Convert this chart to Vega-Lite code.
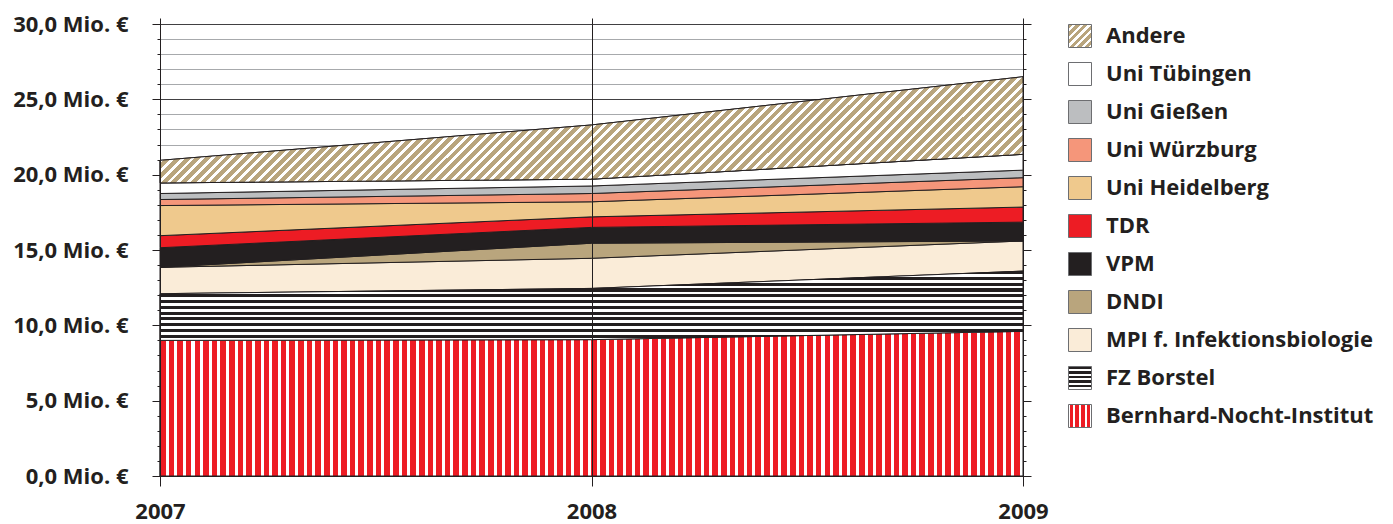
{
"$schema": "https://vega.github.io/schema/vega-lite/v6.json",
"width": 863,
"height": 452,
"autosize": {"type": "none"},
"padding": {"left": 160, "top": 24, "right": 370, "bottom": 48},
"background": "white",
"config": {"view": {"stroke": null}, "font": "Open Sans"},
"data": {"values": [
{"year": 2007, "series": "Bernhard-Nocht-Institut", "value": 9.0},
{"year": 2008, "series": "Bernhard-Nocht-Institut", "value": 9.05},
{"year": 2009, "series": "Bernhard-Nocht-Institut", "value": 9.6},
{"year": 2007, "series": "FZ Borstel", "value": 3.1},
{"year": 2008, "series": "FZ Borstel", "value": 3.4},
{"year": 2009, "series": "FZ Borstel", "value": 4.0},
{"year": 2007, "series": "MPI f. Infektionsbiologie", "value": 1.75},
{"year": 2008, "series": "MPI f. Infektionsbiologie", "value": 2.0},
{"year": 2009, "series": "MPI f. Infektionsbiologie", "value": 2.0},
{"year": 2007, "series": "DNDI", "value": 0},
{"year": 2008, "series": "DNDI", "value": 1.0},
{"year": 2009, "series": "DNDI", "value": 0},
{"year": 2007, "series": "VPM", "value": 1.3},
{"year": 2008, "series": "VPM", "value": 1.05},
{"year": 2009, "series": "VPM", "value": 1.25},
{"year": 2007, "series": "TDR", "value": 0.8},
{"year": 2008, "series": "TDR", "value": 0.7},
{"year": 2009, "series": "TDR", "value": 1.0},
{"year": 2007, "series": "Uni Heidelberg", "value": 2.0},
{"year": 2008, "series": "Uni Heidelberg", "value": 1.0},
{"year": 2009, "series": "Uni Heidelberg", "value": 1.35},
{"year": 2007, "series": "Uni Würzburg", "value": 0.4},
{"year": 2008, "series": "Uni Würzburg", "value": 0.55},
{"year": 2009, "series": "Uni Würzburg", "value": 0.6},
{"year": 2007, "series": "Uni Gießen", "value": 0.4},
{"year": 2008, "series": "Uni Gießen", "value": 0.5},
{"year": 2009, "series": "Uni Gießen", "value": 0.5},
{"year": 2007, "series": "Uni Tübingen", "value": 0.7},
{"year": 2008, "series": "Uni Tübingen", "value": 0.45},
{"year": 2009, "series": "Uni Tübingen", "value": 1.05},
{"year": 2007, "series": "Andere", "value": 1.5},
{"year": 2008, "series": "Andere", "value": 3.6},
{"year": 2009, "series": "Andere", "value": 5.15}
]},
"transform": [{"stack": "value", "groupby": ["year"], "as": ["y0", "y1"]}],
"resolve": {"axis": {"x": "independent", "y": "independent"}},
"layer": [
{
"mark": {"type": "area", "stroke": "#231f20", "strokeWidth": 1},
"encoding": {
"x": {"field": "year", "type": "quantitative", "scale": {"domain": [2007, 2009], "nice": false, "zero": false},
"axis": {"orient": "top", "values": [2007, 2008, 2009], "labels": false, "title": null, "grid": false, "domain": false, "ticks": true, "tickSize": 6, "tickColor": "#231f20"}},
"y": {"field": "y1", "type": "quantitative", "scale": {"domain": [0, 30], "nice": false, "zero": true},
"axis": {"orient": "left", "values": [0,1,2,3,4,5,6,7,8,9,10,11,12,13,14,15,16,17,18,19,20,21,22,23,24,25,26,27,28,29,30], "title": null, "grid": true,
"gridColor": {"condition": {"test": "datum.value % 5 === 0", "value": "#414042"}, "value": "#a7a9ac"},
"gridWidth": 1, "gridOpacity": 1,
"tickSize": {"condition": {"test": "datum.value % 5 === 0", "value": 8}, "value": 3},
"tickColor": "#231f20", "domainColor": "#231f20",
"labelExpr": "datum.value % 5 === 0 ? replace(format(datum.value, '.1f'), '.', ',') + ' Mio. €' : ''",
"labelFont": "Open Sans", "labelFontSize": 22, "labelFontWeight": "bold", "labelColor": "#231f20", "labelPadding": 24, "labelOverlap": false, "labelBound": false, "labelFlush": false}},
"y2": {"field": "y0"},
"fill": {"field": "series", "type": "nominal",
"scale": {"domain": ["Bernhard-Nocht-Institut", "FZ Borstel", "MPI f. Infektionsbiologie", "DNDI", "VPM", "TDR", "Uni Heidelberg", "Uni Würzburg", "Uni Gießen", "Uni Tübingen", "Andere"],
"range": ["#ed1c24", "#231f20", "#faecd8", "#b9a57d", "#231f20", "#ed1c24", "#efc98d", "#f5967a", "#bcbec0", "#ffffff", "#b9a57d"]},
"legend": null},
"opacity": {"field": "series", "type": "nominal",
"scale": {"domain": ["Andere", "Uni Tübingen", "Uni Gießen", "Uni Würzburg", "Uni Heidelberg", "TDR", "VPM", "DNDI", "MPI f. Infektionsbiologie", "FZ Borstel", "Bernhard-Nocht-Institut"], "range": [1, 1]},
"legend": {"orient": "none", "legendX": 908, "legendY": 0, "title": null, "symbolType": "square", "symbolSize": 529, "symbolStrokeWidth": 1, "symbolStrokeColor": "#6d6e71", "labelFont": "Open Sans", "labelFontSize": 22, "labelFontWeight": "bold", "labelColor": "#231f20", "labelOffset": 14, "rowPadding": 10, "padding": 0, "labelLimit": 400,
"encoding": {"symbols": {
"fill": {"condition": [
{"test": "datum.value === 'Andere'", "value": {"gradient": "linear", "x1": 0, "y1": 0, "x2": 1, "y2": 1, "stops": [
{"offset":0,"color":"#b9a57d"},{"offset":0.1,"color":"#b9a57d"},{"offset":0.1,"color":"#fff"},{"offset":0.1667,"color":"#fff"},
{"offset":0.1667,"color":"#b9a57d"},{"offset":0.2667,"color":"#b9a57d"},{"offset":0.2667,"color":"#fff"},{"offset":0.3333,"color":"#fff"},
{"offset":0.3333,"color":"#b9a57d"},{"offset":0.4333,"color":"#b9a57d"},{"offset":0.4333,"color":"#fff"},{"offset":0.5,"color":"#fff"},
{"offset":0.5,"color":"#b9a57d"},{"offset":0.6,"color":"#b9a57d"},{"offset":0.6,"color":"#fff"},{"offset":0.6667,"color":"#fff"},
{"offset":0.6667,"color":"#b9a57d"},{"offset":0.7667,"color":"#b9a57d"},{"offset":0.7667,"color":"#fff"},{"offset":0.8333,"color":"#fff"},
{"offset":0.8333,"color":"#b9a57d"},{"offset":0.9333,"color":"#b9a57d"},{"offset":0.9333,"color":"#fff"},{"offset":1,"color":"#fff"}]}},
{"test": "datum.value === 'FZ Borstel'", "value": {"gradient": "linear", "x1": 0, "y1": 0, "x2": 0, "y2": 1, "stops": [
{"offset":0,"color":"#231f20"},{"offset":0.11,"color":"#231f20"},{"offset":0.11,"color":"#fff"},{"offset":0.2,"color":"#fff"},
{"offset":0.2,"color":"#231f20"},{"offset":0.31,"color":"#231f20"},{"offset":0.31,"color":"#fff"},{"offset":0.4,"color":"#fff"},
{"offset":0.4,"color":"#231f20"},{"offset":0.51,"color":"#231f20"},{"offset":0.51,"color":"#fff"},{"offset":0.6,"color":"#fff"},
{"offset":0.6,"color":"#231f20"},{"offset":0.71,"color":"#231f20"},{"offset":0.71,"color":"#fff"},{"offset":0.8,"color":"#fff"},
{"offset":0.8,"color":"#231f20"},{"offset":0.91,"color":"#231f20"},{"offset":0.91,"color":"#fff"},{"offset":1,"color":"#fff"}]}},
{"test": "datum.value === 'Bernhard-Nocht-Institut'", "value": {"gradient": "linear", "x1": 0, "y1": 0, "x2": 1, "y2": 0, "stops": [
{"offset":0,"color":"#fff"},{"offset":0.05,"color":"#fff"},{"offset":0.05,"color":"#ed1c24"},{"offset":0.2,"color":"#ed1c24"},
{"offset":0.2,"color":"#fff"},{"offset":0.3,"color":"#fff"},{"offset":0.3,"color":"#ed1c24"},{"offset":0.45,"color":"#ed1c24"},
{"offset":0.45,"color":"#fff"},{"offset":0.55,"color":"#fff"},{"offset":0.55,"color":"#ed1c24"},{"offset":0.7,"color":"#ed1c24"},
{"offset":0.7,"color":"#fff"},{"offset":0.8,"color":"#fff"},{"offset":0.8,"color":"#ed1c24"},{"offset":0.95,"color":"#ed1c24"},
{"offset":0.95,"color":"#fff"},{"offset":1,"color":"#fff"}]}}
], "value": {"expr": "scale('fill', datum.value)"}},
"stroke": {"value": "#6d6e71"},
"strokeWidth": {"value": 1}
}}}}
}
},
{
"transform": [{"filter": "datum.series === 'Bernhard-Nocht-Institut'"}],
"mark": {"type": "area", "stroke": "#231f20", "strokeWidth": 1, "fill": {"gradient": "linear", "x1": 0, "y1": 0, "x2": 1, "y2": 0, "stops": [
{"offset":0,"color":"#ed1c24"},{"offset":0.0065,"color":"#ed1c24"},{"offset":0.0065,"color":"#fff"},{"offset":0.01,"color":"#fff"},
{"offset":0.01,"color":"#ed1c24"},{"offset":0.0165,"color":"#ed1c24"},{"offset":0.0165,"color":"#fff"},{"offset":0.02,"color":"#fff"},
{"offset":0.02,"color":"#ed1c24"},{"offset":0.0265,"color":"#ed1c24"},{"offset":0.0265,"color":"#fff"},{"offset":0.03,"color":"#fff"},
{"offset":0.03,"color":"#ed1c24"},{"offset":0.0365,"color":"#ed1c24"},{"offset":0.0365,"color":"#fff"},{"offset":0.04,"color":"#fff"},
{"offset":0.04,"color":"#ed1c24"},{"offset":0.0465,"color":"#ed1c24"},{"offset":0.0465,"color":"#fff"},{"offset":0.05,"color":"#fff"},
{"offset":0.05,"color":"#ed1c24"},{"offset":0.0565,"color":"#ed1c24"},{"offset":0.0565,"color":"#fff"},{"offset":0.06,"color":"#fff"},
{"offset":0.06,"color":"#ed1c24"},{"offset":0.0665,"color":"#ed1c24"},{"offset":0.0665,"color":"#fff"},{"offset":0.07,"color":"#fff"},
{"offset":0.07,"color":"#ed1c24"},{"offset":0.0765,"color":"#ed1c24"},{"offset":0.0765,"color":"#fff"},{"offset":0.08,"color":"#fff"},
{"offset":0.08,"color":"#ed1c24"},{"offset":0.0865,"color":"#ed1c24"},{"offset":0.0865,"color":"#fff"},{"offset":0.09,"color":"#fff"},
{"offset":0.09,"color":"#ed1c24"},{"offset":0.0965,"color":"#ed1c24"},{"offset":0.0965,"color":"#fff"},{"offset":0.1,"color":"#fff"},
{"offset":0.1,"color":"#ed1c24"},{"offset":0.1065,"color":"#ed1c24"},{"offset":0.1065,"color":"#fff"},{"offset":0.11,"color":"#fff"},
{"offset":0.11,"color":"#ed1c24"},{"offset":0.1165,"color":"#ed1c24"},{"offset":0.1165,"color":"#fff"},{"offset":0.12,"color":"#fff"},
{"offset":0.12,"color":"#ed1c24"},{"offset":0.1265,"color":"#ed1c24"},{"offset":0.1265,"color":"#fff"},{"offset":0.13,"color":"#fff"},
{"offset":0.13,"color":"#ed1c24"},{"offset":0.1365,"color":"#ed1c24"},{"offset":0.1365,"color":"#fff"},{"offset":0.14,"color":"#fff"},
{"offset":0.14,"color":"#ed1c24"},{"offset":0.1465,"color":"#ed1c24"},{"offset":0.1465,"color":"#fff"},{"offset":0.15,"color":"#fff"},
{"offset":0.15,"color":"#ed1c24"},{"offset":0.1565,"color":"#ed1c24"},{"offset":0.1565,"color":"#fff"},{"offset":0.16,"color":"#fff"},
{"offset":0.16,"color":"#ed1c24"},{"offset":0.1665,"color":"#ed1c24"},{"offset":0.1665,"color":"#fff"},{"offset":0.17,"color":"#fff"},
{"offset":0.17,"color":"#ed1c24"},{"offset":0.1765,"color":"#ed1c24"},{"offset":0.1765,"color":"#fff"},{"offset":0.18,"color":"#fff"},
{"offset":0.18,"color":"#ed1c24"},{"offset":0.1865,"color":"#ed1c24"},{"offset":0.1865,"color":"#fff"},{"offset":0.19,"color":"#fff"},
{"offset":0.19,"color":"#ed1c24"},{"offset":0.1965,"color":"#ed1c24"},{"offset":0.1965,"color":"#fff"},{"offset":0.2,"color":"#fff"},
{"offset":0.2,"color":"#ed1c24"},{"offset":0.2065,"color":"#ed1c24"},{"offset":0.2065,"color":"#fff"},{"offset":0.21,"color":"#fff"},
{"offset":0.21,"color":"#ed1c24"},{"offset":0.2165,"color":"#ed1c24"},{"offset":0.2165,"color":"#fff"},{"offset":0.22,"color":"#fff"},
{"offset":0.22,"color":"#ed1c24"},{"offset":0.2265,"color":"#ed1c24"},{"offset":0.2265,"color":"#fff"},{"offset":0.23,"color":"#fff"},
{"offset":0.23,"color":"#ed1c24"},{"offset":0.2365,"color":"#ed1c24"},{"offset":0.2365,"color":"#fff"},{"offset":0.24,"color":"#fff"},
{"offset":0.24,"color":"#ed1c24"},{"offset":0.2465,"color":"#ed1c24"},{"offset":0.2465,"color":"#fff"},{"offset":0.25,"color":"#fff"},
{"offset":0.25,"color":"#ed1c24"},{"offset":0.2565,"color":"#ed1c24"},{"offset":0.2565,"color":"#fff"},{"offset":0.26,"color":"#fff"},
{"offset":0.26,"color":"#ed1c24"},{"offset":0.2665,"color":"#ed1c24"},{"offset":0.2665,"color":"#fff"},{"offset":0.27,"color":"#fff"},
{"offset":0.27,"color":"#ed1c24"},{"offset":0.2765,"color":"#ed1c24"},{"offset":0.2765,"color":"#fff"},{"offset":0.28,"color":"#fff"},
{"offset":0.28,"color":"#ed1c24"},{"offset":0.2865,"color":"#ed1c24"},{"offset":0.2865,"color":"#fff"},{"offset":0.29,"color":"#fff"},
{"offset":0.29,"color":"#ed1c24"},{"offset":0.2965,"color":"#ed1c24"},{"offset":0.2965,"color":"#fff"},{"offset":0.3,"color":"#fff"},
{"offset":0.3,"color":"#ed1c24"},{"offset":0.3065,"color":"#ed1c24"},{"offset":0.3065,"color":"#fff"},{"offset":0.31,"color":"#fff"},
{"offset":0.31,"color":"#ed1c24"},{"offset":0.3165,"color":"#ed1c24"},{"offset":0.3165,"color":"#fff"},{"offset":0.32,"color":"#fff"},
{"offset":0.32,"color":"#ed1c24"},{"offset":0.3265,"color":"#ed1c24"},{"offset":0.3265,"color":"#fff"},{"offset":0.33,"color":"#fff"},
{"offset":0.33,"color":"#ed1c24"},{"offset":0.3365,"color":"#ed1c24"},{"offset":0.3365,"color":"#fff"},{"offset":0.34,"color":"#fff"},
{"offset":0.34,"color":"#ed1c24"},{"offset":0.3465,"color":"#ed1c24"},{"offset":0.3465,"color":"#fff"},{"offset":0.35,"color":"#fff"},
{"offset":0.35,"color":"#ed1c24"},{"offset":0.3565,"color":"#ed1c24"},{"offset":0.3565,"color":"#fff"},{"offset":0.36,"color":"#fff"},
{"offset":0.36,"color":"#ed1c24"},{"offset":0.3665,"color":"#ed1c24"},{"offset":0.3665,"color":"#fff"},{"offset":0.37,"color":"#fff"},
{"offset":0.37,"color":"#ed1c24"},{"offset":0.3765,"color":"#ed1c24"},{"offset":0.3765,"color":"#fff"},{"offset":0.38,"color":"#fff"},
{"offset":0.38,"color":"#ed1c24"},{"offset":0.3865,"color":"#ed1c24"},{"offset":0.3865,"color":"#fff"},{"offset":0.39,"color":"#fff"},
{"offset":0.39,"color":"#ed1c24"},{"offset":0.3965,"color":"#ed1c24"},{"offset":0.3965,"color":"#fff"},{"offset":0.4,"color":"#fff"},
{"offset":0.4,"color":"#ed1c24"},{"offset":0.4065,"color":"#ed1c24"},{"offset":0.4065,"color":"#fff"},{"offset":0.41,"color":"#fff"},
{"offset":0.41,"color":"#ed1c24"},{"offset":0.4165,"color":"#ed1c24"},{"offset":0.4165,"color":"#fff"},{"offset":0.42,"color":"#fff"},
{"offset":0.42,"color":"#ed1c24"},{"offset":0.4265,"color":"#ed1c24"},{"offset":0.4265,"color":"#fff"},{"offset":0.43,"color":"#fff"},
{"offset":0.43,"color":"#ed1c24"},{"offset":0.4365,"color":"#ed1c24"},{"offset":0.4365,"color":"#fff"},{"offset":0.44,"color":"#fff"},
{"offset":0.44,"color":"#ed1c24"},{"offset":0.4465,"color":"#ed1c24"},{"offset":0.4465,"color":"#fff"},{"offset":0.45,"color":"#fff"},
{"offset":0.45,"color":"#ed1c24"},{"offset":0.4565,"color":"#ed1c24"},{"offset":0.4565,"color":"#fff"},{"offset":0.46,"color":"#fff"},
{"offset":0.46,"color":"#ed1c24"},{"offset":0.4665,"color":"#ed1c24"},{"offset":0.4665,"color":"#fff"},{"offset":0.47,"color":"#fff"},
{"offset":0.47,"color":"#ed1c24"},{"offset":0.4765,"color":"#ed1c24"},{"offset":0.4765,"color":"#fff"},{"offset":0.48,"color":"#fff"},
{"offset":0.48,"color":"#ed1c24"},{"offset":0.4865,"color":"#ed1c24"},{"offset":0.4865,"color":"#fff"},{"offset":0.49,"color":"#fff"},
{"offset":0.49,"color":"#ed1c24"},{"offset":0.4965,"color":"#ed1c24"},{"offset":0.4965,"color":"#fff"},{"offset":0.5,"color":"#fff"},
{"offset":0.5,"color":"#ed1c24"},{"offset":0.5065,"color":"#ed1c24"},{"offset":0.5065,"color":"#fff"},{"offset":0.51,"color":"#fff"},
{"offset":0.51,"color":"#ed1c24"},{"offset":0.5165,"color":"#ed1c24"},{"offset":0.5165,"color":"#fff"},{"offset":0.52,"color":"#fff"},
{"offset":0.52,"color":"#ed1c24"},{"offset":0.5265,"color":"#ed1c24"},{"offset":0.5265,"color":"#fff"},{"offset":0.53,"color":"#fff"},
{"offset":0.53,"color":"#ed1c24"},{"offset":0.5365,"color":"#ed1c24"},{"offset":0.5365,"color":"#fff"},{"offset":0.54,"color":"#fff"},
{"offset":0.54,"color":"#ed1c24"},{"offset":0.5465,"color":"#ed1c24"},{"offset":0.5465,"color":"#fff"},{"offset":0.55,"color":"#fff"},
{"offset":0.55,"color":"#ed1c24"},{"offset":0.5565,"color":"#ed1c24"},{"offset":0.5565,"color":"#fff"},{"offset":0.56,"color":"#fff"},
{"offset":0.56,"color":"#ed1c24"},{"offset":0.5665,"color":"#ed1c24"},{"offset":0.5665,"color":"#fff"},{"offset":0.57,"color":"#fff"},
{"offset":0.57,"color":"#ed1c24"},{"offset":0.5765,"color":"#ed1c24"},{"offset":0.5765,"color":"#fff"},{"offset":0.58,"color":"#fff"},
{"offset":0.58,"color":"#ed1c24"},{"offset":0.5865,"color":"#ed1c24"},{"offset":0.5865,"color":"#fff"},{"offset":0.59,"color":"#fff"},
{"offset":0.59,"color":"#ed1c24"},{"offset":0.5965,"color":"#ed1c24"},{"offset":0.5965,"color":"#fff"},{"offset":0.6,"color":"#fff"},
{"offset":0.6,"color":"#ed1c24"},{"offset":0.6065,"color":"#ed1c24"},{"offset":0.6065,"color":"#fff"},{"offset":0.61,"color":"#fff"},
{"offset":0.61,"color":"#ed1c24"},{"offset":0.6165,"color":"#ed1c24"},{"offset":0.6165,"color":"#fff"},{"offset":0.62,"color":"#fff"},
{"offset":0.62,"color":"#ed1c24"},{"offset":0.6265,"color":"#ed1c24"},{"offset":0.6265,"color":"#fff"},{"offset":0.63,"color":"#fff"},
{"offset":0.63,"color":"#ed1c24"},{"offset":0.6365,"color":"#ed1c24"},{"offset":0.6365,"color":"#fff"},{"offset":0.64,"color":"#fff"},
{"offset":0.64,"color":"#ed1c24"},{"offset":0.6465,"color":"#ed1c24"},{"offset":0.6465,"color":"#fff"},{"offset":0.65,"color":"#fff"},
{"offset":0.65,"color":"#ed1c24"},{"offset":0.6565,"color":"#ed1c24"},{"offset":0.6565,"color":"#fff"},{"offset":0.66,"color":"#fff"},
{"offset":0.66,"color":"#ed1c24"},{"offset":0.6665,"color":"#ed1c24"},{"offset":0.6665,"color":"#fff"},{"offset":0.67,"color":"#fff"},
{"offset":0.67,"color":"#ed1c24"},{"offset":0.6765,"color":"#ed1c24"},{"offset":0.6765,"color":"#fff"},{"offset":0.68,"color":"#fff"},
{"offset":0.68,"color":"#ed1c24"},{"offset":0.6865,"color":"#ed1c24"},{"offset":0.6865,"color":"#fff"},{"offset":0.69,"color":"#fff"},
{"offset":0.69,"color":"#ed1c24"},{"offset":0.6965,"color":"#ed1c24"},{"offset":0.6965,"color":"#fff"},{"offset":0.7,"color":"#fff"},
{"offset":0.7,"color":"#ed1c24"},{"offset":0.7065,"color":"#ed1c24"},{"offset":0.7065,"color":"#fff"},{"offset":0.71,"color":"#fff"},
{"offset":0.71,"color":"#ed1c24"},{"offset":0.7165,"color":"#ed1c24"},{"offset":0.7165,"color":"#fff"},{"offset":0.72,"color":"#fff"},
{"offset":0.72,"color":"#ed1c24"},{"offset":0.7265,"color":"#ed1c24"},{"offset":0.7265,"color":"#fff"},{"offset":0.73,"color":"#fff"},
{"offset":0.73,"color":"#ed1c24"},{"offset":0.7365,"color":"#ed1c24"},{"offset":0.7365,"color":"#fff"},{"offset":0.74,"color":"#fff"},
{"offset":0.74,"color":"#ed1c24"},{"offset":0.7465,"color":"#ed1c24"},{"offset":0.7465,"color":"#fff"},{"offset":0.75,"color":"#fff"},
{"offset":0.75,"color":"#ed1c24"},{"offset":0.7565,"color":"#ed1c24"},{"offset":0.7565,"color":"#fff"},{"offset":0.76,"color":"#fff"},
{"offset":0.76,"color":"#ed1c24"},{"offset":0.7665,"color":"#ed1c24"},{"offset":0.7665,"color":"#fff"},{"offset":0.77,"color":"#fff"},
{"offset":0.77,"color":"#ed1c24"},{"offset":0.7765,"color":"#ed1c24"},{"offset":0.7765,"color":"#fff"},{"offset":0.78,"color":"#fff"},
{"offset":0.78,"color":"#ed1c24"},{"offset":0.7865,"color":"#ed1c24"},{"offset":0.7865,"color":"#fff"},{"offset":0.79,"color":"#fff"},
{"offset":0.79,"color":"#ed1c24"},{"offset":0.7965,"color":"#ed1c24"},{"offset":0.7965,"color":"#fff"},{"offset":0.8,"color":"#fff"},
{"offset":0.8,"color":"#ed1c24"},{"offset":0.8065,"color":"#ed1c24"},{"offset":0.8065,"color":"#fff"},{"offset":0.81,"color":"#fff"},
{"offset":0.81,"color":"#ed1c24"},{"offset":0.8165,"color":"#ed1c24"},{"offset":0.8165,"color":"#fff"},{"offset":0.82,"color":"#fff"},
{"offset":0.82,"color":"#ed1c24"},{"offset":0.8265,"color":"#ed1c24"},{"offset":0.8265,"color":"#fff"},{"offset":0.83,"color":"#fff"},
{"offset":0.83,"color":"#ed1c24"},{"offset":0.8365,"color":"#ed1c24"},{"offset":0.8365,"color":"#fff"},{"offset":0.84,"color":"#fff"},
{"offset":0.84,"color":"#ed1c24"},{"offset":0.8465,"color":"#ed1c24"},{"offset":0.8465,"color":"#fff"},{"offset":0.85,"color":"#fff"},
{"offset":0.85,"color":"#ed1c24"},{"offset":0.8565,"color":"#ed1c24"},{"offset":0.8565,"color":"#fff"},{"offset":0.86,"color":"#fff"},
{"offset":0.86,"color":"#ed1c24"},{"offset":0.8665,"color":"#ed1c24"},{"offset":0.8665,"color":"#fff"},{"offset":0.87,"color":"#fff"},
{"offset":0.87,"color":"#ed1c24"},{"offset":0.8765,"color":"#ed1c24"},{"offset":0.8765,"color":"#fff"},{"offset":0.88,"color":"#fff"},
{"offset":0.88,"color":"#ed1c24"},{"offset":0.8865,"color":"#ed1c24"},{"offset":0.8865,"color":"#fff"},{"offset":0.89,"color":"#fff"},
{"offset":0.89,"color":"#ed1c24"},{"offset":0.8965,"color":"#ed1c24"},{"offset":0.8965,"color":"#fff"},{"offset":0.9,"color":"#fff"},
{"offset":0.9,"color":"#ed1c24"},{"offset":0.9065,"color":"#ed1c24"},{"offset":0.9065,"color":"#fff"},{"offset":0.91,"color":"#fff"},
{"offset":0.91,"color":"#ed1c24"},{"offset":0.9165,"color":"#ed1c24"},{"offset":0.9165,"color":"#fff"},{"offset":0.92,"color":"#fff"},
{"offset":0.92,"color":"#ed1c24"},{"offset":0.9265,"color":"#ed1c24"},{"offset":0.9265,"color":"#fff"},{"offset":0.93,"color":"#fff"},
{"offset":0.93,"color":"#ed1c24"},{"offset":0.9365,"color":"#ed1c24"},{"offset":0.9365,"color":"#fff"},{"offset":0.94,"color":"#fff"},
{"offset":0.94,"color":"#ed1c24"},{"offset":0.9465,"color":"#ed1c24"},{"offset":0.9465,"color":"#fff"},{"offset":0.95,"color":"#fff"},
{"offset":0.95,"color":"#ed1c24"},{"offset":0.9565,"color":"#ed1c24"},{"offset":0.9565,"color":"#fff"},{"offset":0.96,"color":"#fff"},
{"offset":0.96,"color":"#ed1c24"},{"offset":0.9665,"color":"#ed1c24"},{"offset":0.9665,"color":"#fff"},{"offset":0.97,"color":"#fff"},
{"offset":0.97,"color":"#ed1c24"},{"offset":0.9765,"color":"#ed1c24"},{"offset":0.9765,"color":"#fff"},{"offset":0.98,"color":"#fff"},
{"offset":0.98,"color":"#ed1c24"},{"offset":0.9865,"color":"#ed1c24"},{"offset":0.9865,"color":"#fff"},{"offset":0.99,"color":"#fff"},
{"offset":0.99,"color":"#ed1c24"},{"offset":0.9965,"color":"#ed1c24"},{"offset":0.9965,"color":"#fff"},{"offset":1,"color":"#fff"}
]}},
"encoding": {
"x": {"field": "year", "type": "quantitative", "scale": {"domain": [2007, 2009], "nice": false, "zero": false}, "axis": null},
"y": {"field": "y1", "type": "quantitative", "scale": {"domain": [0, 30], "nice": false, "zero": true}, "axis": null},
"y2": {"field": "y0"}
}
},
{
"transform": [{"filter": "datum.series === 'FZ Borstel'"}],
"mark": {"type": "area", "stroke": "#231f20", "strokeWidth": 1, "fill": {"gradient": "linear", "x1": 0, "y1": 0, "x2": 0, "y2": 1, "stops": [
{"offset":0,"color":"#231f20"},{"offset":0.0458,"color":"#231f20"},{"offset":0.0458,"color":"#fff"},{"offset":0.0833,"color":"#fff"},
{"offset":0.0833,"color":"#231f20"},{"offset":0.1292,"color":"#231f20"},{"offset":0.1292,"color":"#fff"},{"offset":0.1667,"color":"#fff"},
{"offset":0.1667,"color":"#231f20"},{"offset":0.2125,"color":"#231f20"},{"offset":0.2125,"color":"#fff"},{"offset":0.25,"color":"#fff"},
{"offset":0.25,"color":"#231f20"},{"offset":0.2958,"color":"#231f20"},{"offset":0.2958,"color":"#fff"},{"offset":0.3333,"color":"#fff"},
{"offset":0.3333,"color":"#231f20"},{"offset":0.3792,"color":"#231f20"},{"offset":0.3792,"color":"#fff"},{"offset":0.4167,"color":"#fff"},
{"offset":0.4167,"color":"#231f20"},{"offset":0.4625,"color":"#231f20"},{"offset":0.4625,"color":"#fff"},{"offset":0.5,"color":"#fff"},
{"offset":0.5,"color":"#231f20"},{"offset":0.5458,"color":"#231f20"},{"offset":0.5458,"color":"#fff"},{"offset":0.5833,"color":"#fff"},
{"offset":0.5833,"color":"#231f20"},{"offset":0.6292,"color":"#231f20"},{"offset":0.6292,"color":"#fff"},{"offset":0.6667,"color":"#fff"},
{"offset":0.6667,"color":"#231f20"},{"offset":0.7125,"color":"#231f20"},{"offset":0.7125,"color":"#fff"},{"offset":0.75,"color":"#fff"},
{"offset":0.75,"color":"#231f20"},{"offset":0.7958,"color":"#231f20"},{"offset":0.7958,"color":"#fff"},{"offset":0.8333,"color":"#fff"},
{"offset":0.8333,"color":"#231f20"},{"offset":0.8792,"color":"#231f20"},{"offset":0.8792,"color":"#fff"},{"offset":0.9167,"color":"#fff"},
{"offset":0.9167,"color":"#231f20"},{"offset":0.9625,"color":"#231f20"},{"offset":0.9625,"color":"#fff"},{"offset":1,"color":"#fff"}
]}},
"encoding": {
"x": {"field": "year", "type": "quantitative", "scale": {"domain": [2007, 2009], "nice": false, "zero": false}, "axis": null},
"y": {"field": "y1", "type": "quantitative", "scale": {"domain": [0, 30], "nice": false, "zero": true}, "axis": null},
"y2": {"field": "y0"}
}
},
{
"transform": [{"filter": "datum.series === 'Andere'"}],
"mark": {"type": "area", "stroke": "#231f20", "strokeWidth": 1, "fill": {"gradient": "linear", "x1": 0, "y1": 0, "x2": 1.1064, "y2": 0.1363, "stops": [
{"offset":0,"color":"#b9a57d"},{"offset":0.006,"color":"#b9a57d"},{"offset":0.006,"color":"#fff"},{"offset":0.01,"color":"#fff"},
{"offset":0.01,"color":"#b9a57d"},{"offset":0.016,"color":"#b9a57d"},{"offset":0.016,"color":"#fff"},{"offset":0.02,"color":"#fff"},
{"offset":0.02,"color":"#b9a57d"},{"offset":0.026,"color":"#b9a57d"},{"offset":0.026,"color":"#fff"},{"offset":0.03,"color":"#fff"},
{"offset":0.03,"color":"#b9a57d"},{"offset":0.036,"color":"#b9a57d"},{"offset":0.036,"color":"#fff"},{"offset":0.04,"color":"#fff"},
{"offset":0.04,"color":"#b9a57d"},{"offset":0.046,"color":"#b9a57d"},{"offset":0.046,"color":"#fff"},{"offset":0.05,"color":"#fff"},
{"offset":0.05,"color":"#b9a57d"},{"offset":0.056,"color":"#b9a57d"},{"offset":0.056,"color":"#fff"},{"offset":0.06,"color":"#fff"},
{"offset":0.06,"color":"#b9a57d"},{"offset":0.066,"color":"#b9a57d"},{"offset":0.066,"color":"#fff"},{"offset":0.07,"color":"#fff"},
{"offset":0.07,"color":"#b9a57d"},{"offset":0.076,"color":"#b9a57d"},{"offset":0.076,"color":"#fff"},{"offset":0.08,"color":"#fff"},
{"offset":0.08,"color":"#b9a57d"},{"offset":0.086,"color":"#b9a57d"},{"offset":0.086,"color":"#fff"},{"offset":0.09,"color":"#fff"},
{"offset":0.09,"color":"#b9a57d"},{"offset":0.096,"color":"#b9a57d"},{"offset":0.096,"color":"#fff"},{"offset":0.1,"color":"#fff"},
{"offset":0.1,"color":"#b9a57d"},{"offset":0.106,"color":"#b9a57d"},{"offset":0.106,"color":"#fff"},{"offset":0.11,"color":"#fff"},
{"offset":0.11,"color":"#b9a57d"},{"offset":0.116,"color":"#b9a57d"},{"offset":0.116,"color":"#fff"},{"offset":0.12,"color":"#fff"},
{"offset":0.12,"color":"#b9a57d"},{"offset":0.126,"color":"#b9a57d"},{"offset":0.126,"color":"#fff"},{"offset":0.13,"color":"#fff"},
{"offset":0.13,"color":"#b9a57d"},{"offset":0.136,"color":"#b9a57d"},{"offset":0.136,"color":"#fff"},{"offset":0.14,"color":"#fff"},
{"offset":0.14,"color":"#b9a57d"},{"offset":0.146,"color":"#b9a57d"},{"offset":0.146,"color":"#fff"},{"offset":0.15,"color":"#fff"},
{"offset":0.15,"color":"#b9a57d"},{"offset":0.156,"color":"#b9a57d"},{"offset":0.156,"color":"#fff"},{"offset":0.16,"color":"#fff"},
{"offset":0.16,"color":"#b9a57d"},{"offset":0.166,"color":"#b9a57d"},{"offset":0.166,"color":"#fff"},{"offset":0.17,"color":"#fff"},
{"offset":0.17,"color":"#b9a57d"},{"offset":0.176,"color":"#b9a57d"},{"offset":0.176,"color":"#fff"},{"offset":0.18,"color":"#fff"},
{"offset":0.18,"color":"#b9a57d"},{"offset":0.186,"color":"#b9a57d"},{"offset":0.186,"color":"#fff"},{"offset":0.19,"color":"#fff"},
{"offset":0.19,"color":"#b9a57d"},{"offset":0.196,"color":"#b9a57d"},{"offset":0.196,"color":"#fff"},{"offset":0.2,"color":"#fff"},
{"offset":0.2,"color":"#b9a57d"},{"offset":0.206,"color":"#b9a57d"},{"offset":0.206,"color":"#fff"},{"offset":0.21,"color":"#fff"},
{"offset":0.21,"color":"#b9a57d"},{"offset":0.216,"color":"#b9a57d"},{"offset":0.216,"color":"#fff"},{"offset":0.22,"color":"#fff"},
{"offset":0.22,"color":"#b9a57d"},{"offset":0.226,"color":"#b9a57d"},{"offset":0.226,"color":"#fff"},{"offset":0.23,"color":"#fff"},
{"offset":0.23,"color":"#b9a57d"},{"offset":0.236,"color":"#b9a57d"},{"offset":0.236,"color":"#fff"},{"offset":0.24,"color":"#fff"},
{"offset":0.24,"color":"#b9a57d"},{"offset":0.246,"color":"#b9a57d"},{"offset":0.246,"color":"#fff"},{"offset":0.25,"color":"#fff"},
{"offset":0.25,"color":"#b9a57d"},{"offset":0.256,"color":"#b9a57d"},{"offset":0.256,"color":"#fff"},{"offset":0.26,"color":"#fff"},
{"offset":0.26,"color":"#b9a57d"},{"offset":0.266,"color":"#b9a57d"},{"offset":0.266,"color":"#fff"},{"offset":0.27,"color":"#fff"},
{"offset":0.27,"color":"#b9a57d"},{"offset":0.276,"color":"#b9a57d"},{"offset":0.276,"color":"#fff"},{"offset":0.28,"color":"#fff"},
{"offset":0.28,"color":"#b9a57d"},{"offset":0.286,"color":"#b9a57d"},{"offset":0.286,"color":"#fff"},{"offset":0.29,"color":"#fff"},
{"offset":0.29,"color":"#b9a57d"},{"offset":0.296,"color":"#b9a57d"},{"offset":0.296,"color":"#fff"},{"offset":0.3,"color":"#fff"},
{"offset":0.3,"color":"#b9a57d"},{"offset":0.306,"color":"#b9a57d"},{"offset":0.306,"color":"#fff"},{"offset":0.31,"color":"#fff"},
{"offset":0.31,"color":"#b9a57d"},{"offset":0.316,"color":"#b9a57d"},{"offset":0.316,"color":"#fff"},{"offset":0.32,"color":"#fff"},
{"offset":0.32,"color":"#b9a57d"},{"offset":0.326,"color":"#b9a57d"},{"offset":0.326,"color":"#fff"},{"offset":0.33,"color":"#fff"},
{"offset":0.33,"color":"#b9a57d"},{"offset":0.336,"color":"#b9a57d"},{"offset":0.336,"color":"#fff"},{"offset":0.34,"color":"#fff"},
{"offset":0.34,"color":"#b9a57d"},{"offset":0.346,"color":"#b9a57d"},{"offset":0.346,"color":"#fff"},{"offset":0.35,"color":"#fff"},
{"offset":0.35,"color":"#b9a57d"},{"offset":0.356,"color":"#b9a57d"},{"offset":0.356,"color":"#fff"},{"offset":0.36,"color":"#fff"},
{"offset":0.36,"color":"#b9a57d"},{"offset":0.366,"color":"#b9a57d"},{"offset":0.366,"color":"#fff"},{"offset":0.37,"color":"#fff"},
{"offset":0.37,"color":"#b9a57d"},{"offset":0.376,"color":"#b9a57d"},{"offset":0.376,"color":"#fff"},{"offset":0.38,"color":"#fff"},
{"offset":0.38,"color":"#b9a57d"},{"offset":0.386,"color":"#b9a57d"},{"offset":0.386,"color":"#fff"},{"offset":0.39,"color":"#fff"},
{"offset":0.39,"color":"#b9a57d"},{"offset":0.396,"color":"#b9a57d"},{"offset":0.396,"color":"#fff"},{"offset":0.4,"color":"#fff"},
{"offset":0.4,"color":"#b9a57d"},{"offset":0.406,"color":"#b9a57d"},{"offset":0.406,"color":"#fff"},{"offset":0.41,"color":"#fff"},
{"offset":0.41,"color":"#b9a57d"},{"offset":0.416,"color":"#b9a57d"},{"offset":0.416,"color":"#fff"},{"offset":0.42,"color":"#fff"},
{"offset":0.42,"color":"#b9a57d"},{"offset":0.426,"color":"#b9a57d"},{"offset":0.426,"color":"#fff"},{"offset":0.43,"color":"#fff"},
{"offset":0.43,"color":"#b9a57d"},{"offset":0.436,"color":"#b9a57d"},{"offset":0.436,"color":"#fff"},{"offset":0.44,"color":"#fff"},
{"offset":0.44,"color":"#b9a57d"},{"offset":0.446,"color":"#b9a57d"},{"offset":0.446,"color":"#fff"},{"offset":0.45,"color":"#fff"},
{"offset":0.45,"color":"#b9a57d"},{"offset":0.456,"color":"#b9a57d"},{"offset":0.456,"color":"#fff"},{"offset":0.46,"color":"#fff"},
{"offset":0.46,"color":"#b9a57d"},{"offset":0.466,"color":"#b9a57d"},{"offset":0.466,"color":"#fff"},{"offset":0.47,"color":"#fff"},
{"offset":0.47,"color":"#b9a57d"},{"offset":0.476,"color":"#b9a57d"},{"offset":0.476,"color":"#fff"},{"offset":0.48,"color":"#fff"},
{"offset":0.48,"color":"#b9a57d"},{"offset":0.486,"color":"#b9a57d"},{"offset":0.486,"color":"#fff"},{"offset":0.49,"color":"#fff"},
{"offset":0.49,"color":"#b9a57d"},{"offset":0.496,"color":"#b9a57d"},{"offset":0.496,"color":"#fff"},{"offset":0.5,"color":"#fff"},
{"offset":0.5,"color":"#b9a57d"},{"offset":0.506,"color":"#b9a57d"},{"offset":0.506,"color":"#fff"},{"offset":0.51,"color":"#fff"},
{"offset":0.51,"color":"#b9a57d"},{"offset":0.516,"color":"#b9a57d"},{"offset":0.516,"color":"#fff"},{"offset":0.52,"color":"#fff"},
{"offset":0.52,"color":"#b9a57d"},{"offset":0.526,"color":"#b9a57d"},{"offset":0.526,"color":"#fff"},{"offset":0.53,"color":"#fff"},
{"offset":0.53,"color":"#b9a57d"},{"offset":0.536,"color":"#b9a57d"},{"offset":0.536,"color":"#fff"},{"offset":0.54,"color":"#fff"},
{"offset":0.54,"color":"#b9a57d"},{"offset":0.546,"color":"#b9a57d"},{"offset":0.546,"color":"#fff"},{"offset":0.55,"color":"#fff"},
{"offset":0.55,"color":"#b9a57d"},{"offset":0.556,"color":"#b9a57d"},{"offset":0.556,"color":"#fff"},{"offset":0.56,"color":"#fff"},
{"offset":0.56,"color":"#b9a57d"},{"offset":0.566,"color":"#b9a57d"},{"offset":0.566,"color":"#fff"},{"offset":0.57,"color":"#fff"},
{"offset":0.57,"color":"#b9a57d"},{"offset":0.576,"color":"#b9a57d"},{"offset":0.576,"color":"#fff"},{"offset":0.58,"color":"#fff"},
{"offset":0.58,"color":"#b9a57d"},{"offset":0.586,"color":"#b9a57d"},{"offset":0.586,"color":"#fff"},{"offset":0.59,"color":"#fff"},
{"offset":0.59,"color":"#b9a57d"},{"offset":0.596,"color":"#b9a57d"},{"offset":0.596,"color":"#fff"},{"offset":0.6,"color":"#fff"},
{"offset":0.6,"color":"#b9a57d"},{"offset":0.606,"color":"#b9a57d"},{"offset":0.606,"color":"#fff"},{"offset":0.61,"color":"#fff"},
{"offset":0.61,"color":"#b9a57d"},{"offset":0.616,"color":"#b9a57d"},{"offset":0.616,"color":"#fff"},{"offset":0.62,"color":"#fff"},
{"offset":0.62,"color":"#b9a57d"},{"offset":0.626,"color":"#b9a57d"},{"offset":0.626,"color":"#fff"},{"offset":0.63,"color":"#fff"},
{"offset":0.63,"color":"#b9a57d"},{"offset":0.636,"color":"#b9a57d"},{"offset":0.636,"color":"#fff"},{"offset":0.64,"color":"#fff"},
{"offset":0.64,"color":"#b9a57d"},{"offset":0.646,"color":"#b9a57d"},{"offset":0.646,"color":"#fff"},{"offset":0.65,"color":"#fff"},
{"offset":0.65,"color":"#b9a57d"},{"offset":0.656,"color":"#b9a57d"},{"offset":0.656,"color":"#fff"},{"offset":0.66,"color":"#fff"},
{"offset":0.66,"color":"#b9a57d"},{"offset":0.666,"color":"#b9a57d"},{"offset":0.666,"color":"#fff"},{"offset":0.67,"color":"#fff"},
{"offset":0.67,"color":"#b9a57d"},{"offset":0.676,"color":"#b9a57d"},{"offset":0.676,"color":"#fff"},{"offset":0.68,"color":"#fff"},
{"offset":0.68,"color":"#b9a57d"},{"offset":0.686,"color":"#b9a57d"},{"offset":0.686,"color":"#fff"},{"offset":0.69,"color":"#fff"},
{"offset":0.69,"color":"#b9a57d"},{"offset":0.696,"color":"#b9a57d"},{"offset":0.696,"color":"#fff"},{"offset":0.7,"color":"#fff"},
{"offset":0.7,"color":"#b9a57d"},{"offset":0.706,"color":"#b9a57d"},{"offset":0.706,"color":"#fff"},{"offset":0.71,"color":"#fff"},
{"offset":0.71,"color":"#b9a57d"},{"offset":0.716,"color":"#b9a57d"},{"offset":0.716,"color":"#fff"},{"offset":0.72,"color":"#fff"},
{"offset":0.72,"color":"#b9a57d"},{"offset":0.726,"color":"#b9a57d"},{"offset":0.726,"color":"#fff"},{"offset":0.73,"color":"#fff"},
{"offset":0.73,"color":"#b9a57d"},{"offset":0.736,"color":"#b9a57d"},{"offset":0.736,"color":"#fff"},{"offset":0.74,"color":"#fff"},
{"offset":0.74,"color":"#b9a57d"},{"offset":0.746,"color":"#b9a57d"},{"offset":0.746,"color":"#fff"},{"offset":0.75,"color":"#fff"},
{"offset":0.75,"color":"#b9a57d"},{"offset":0.756,"color":"#b9a57d"},{"offset":0.756,"color":"#fff"},{"offset":0.76,"color":"#fff"},
{"offset":0.76,"color":"#b9a57d"},{"offset":0.766,"color":"#b9a57d"},{"offset":0.766,"color":"#fff"},{"offset":0.77,"color":"#fff"},
{"offset":0.77,"color":"#b9a57d"},{"offset":0.776,"color":"#b9a57d"},{"offset":0.776,"color":"#fff"},{"offset":0.78,"color":"#fff"},
{"offset":0.78,"color":"#b9a57d"},{"offset":0.786,"color":"#b9a57d"},{"offset":0.786,"color":"#fff"},{"offset":0.79,"color":"#fff"},
{"offset":0.79,"color":"#b9a57d"},{"offset":0.796,"color":"#b9a57d"},{"offset":0.796,"color":"#fff"},{"offset":0.8,"color":"#fff"},
{"offset":0.8,"color":"#b9a57d"},{"offset":0.806,"color":"#b9a57d"},{"offset":0.806,"color":"#fff"},{"offset":0.81,"color":"#fff"},
{"offset":0.81,"color":"#b9a57d"},{"offset":0.816,"color":"#b9a57d"},{"offset":0.816,"color":"#fff"},{"offset":0.82,"color":"#fff"},
{"offset":0.82,"color":"#b9a57d"},{"offset":0.826,"color":"#b9a57d"},{"offset":0.826,"color":"#fff"},{"offset":0.83,"color":"#fff"},
{"offset":0.83,"color":"#b9a57d"},{"offset":0.836,"color":"#b9a57d"},{"offset":0.836,"color":"#fff"},{"offset":0.84,"color":"#fff"},
{"offset":0.84,"color":"#b9a57d"},{"offset":0.846,"color":"#b9a57d"},{"offset":0.846,"color":"#fff"},{"offset":0.85,"color":"#fff"},
{"offset":0.85,"color":"#b9a57d"},{"offset":0.856,"color":"#b9a57d"},{"offset":0.856,"color":"#fff"},{"offset":0.86,"color":"#fff"},
{"offset":0.86,"color":"#b9a57d"},{"offset":0.866,"color":"#b9a57d"},{"offset":0.866,"color":"#fff"},{"offset":0.87,"color":"#fff"},
{"offset":0.87,"color":"#b9a57d"},{"offset":0.876,"color":"#b9a57d"},{"offset":0.876,"color":"#fff"},{"offset":0.88,"color":"#fff"},
{"offset":0.88,"color":"#b9a57d"},{"offset":0.886,"color":"#b9a57d"},{"offset":0.886,"color":"#fff"},{"offset":0.89,"color":"#fff"},
{"offset":0.89,"color":"#b9a57d"},{"offset":0.896,"color":"#b9a57d"},{"offset":0.896,"color":"#fff"},{"offset":0.9,"color":"#fff"},
{"offset":0.9,"color":"#b9a57d"},{"offset":0.906,"color":"#b9a57d"},{"offset":0.906,"color":"#fff"},{"offset":0.91,"color":"#fff"},
{"offset":0.91,"color":"#b9a57d"},{"offset":0.916,"color":"#b9a57d"},{"offset":0.916,"color":"#fff"},{"offset":0.92,"color":"#fff"},
{"offset":0.92,"color":"#b9a57d"},{"offset":0.926,"color":"#b9a57d"},{"offset":0.926,"color":"#fff"},{"offset":0.93,"color":"#fff"},
{"offset":0.93,"color":"#b9a57d"},{"offset":0.936,"color":"#b9a57d"},{"offset":0.936,"color":"#fff"},{"offset":0.94,"color":"#fff"},
{"offset":0.94,"color":"#b9a57d"},{"offset":0.946,"color":"#b9a57d"},{"offset":0.946,"color":"#fff"},{"offset":0.95,"color":"#fff"},
{"offset":0.95,"color":"#b9a57d"},{"offset":0.956,"color":"#b9a57d"},{"offset":0.956,"color":"#fff"},{"offset":0.96,"color":"#fff"},
{"offset":0.96,"color":"#b9a57d"},{"offset":0.966,"color":"#b9a57d"},{"offset":0.966,"color":"#fff"},{"offset":0.97,"color":"#fff"},
{"offset":0.97,"color":"#b9a57d"},{"offset":0.976,"color":"#b9a57d"},{"offset":0.976,"color":"#fff"},{"offset":0.98,"color":"#fff"},
{"offset":0.98,"color":"#b9a57d"},{"offset":0.986,"color":"#b9a57d"},{"offset":0.986,"color":"#fff"},{"offset":0.99,"color":"#fff"},
{"offset":0.99,"color":"#b9a57d"},{"offset":0.996,"color":"#b9a57d"},{"offset":0.996,"color":"#fff"},{"offset":1,"color":"#fff"}
]}},
"encoding": {
"x": {"field": "year", "type": "quantitative", "scale": {"domain": [2007, 2009], "nice": false, "zero": false},
"axis": {"orient": "bottom", "values": [2007, 2008, 2009], "labelExpr": "'' + datum.value", "title": null, "grid": true, "gridColor": "#231f20", "gridWidth": 1, "gridOpacity": 1, "domainColor": "#231f20", "tickColor": "#231f20", "tickSize": 10, "labelFont": "Open Sans", "labelFontSize": 22, "labelFontWeight": "bold", "labelColor": "#231f20", "labelPadding": 15, "labelFlush": false, "labelOverlap": false, "zindex": 1}},
"y": {"field": "y1", "type": "quantitative", "scale": {"domain": [0, 30], "nice": false, "zero": true},
"axis": {"orient": "right", "values": [0,1,2,3,4,5,6,7,8,9,10,11,12,13,14,15,16,17,18,19,20,21,22,23,24,25,26,27,28,29,30], "labels": false, "title": null, "grid": false, "domain": true, "domainColor": "#231f20", "tickColor": "#231f20",
"tickSize": {"condition": {"test": "datum.value % 5 === 0", "value": 8}, "value": 3}}},
"y2": {"field": "y0"}
}
}
]
}
